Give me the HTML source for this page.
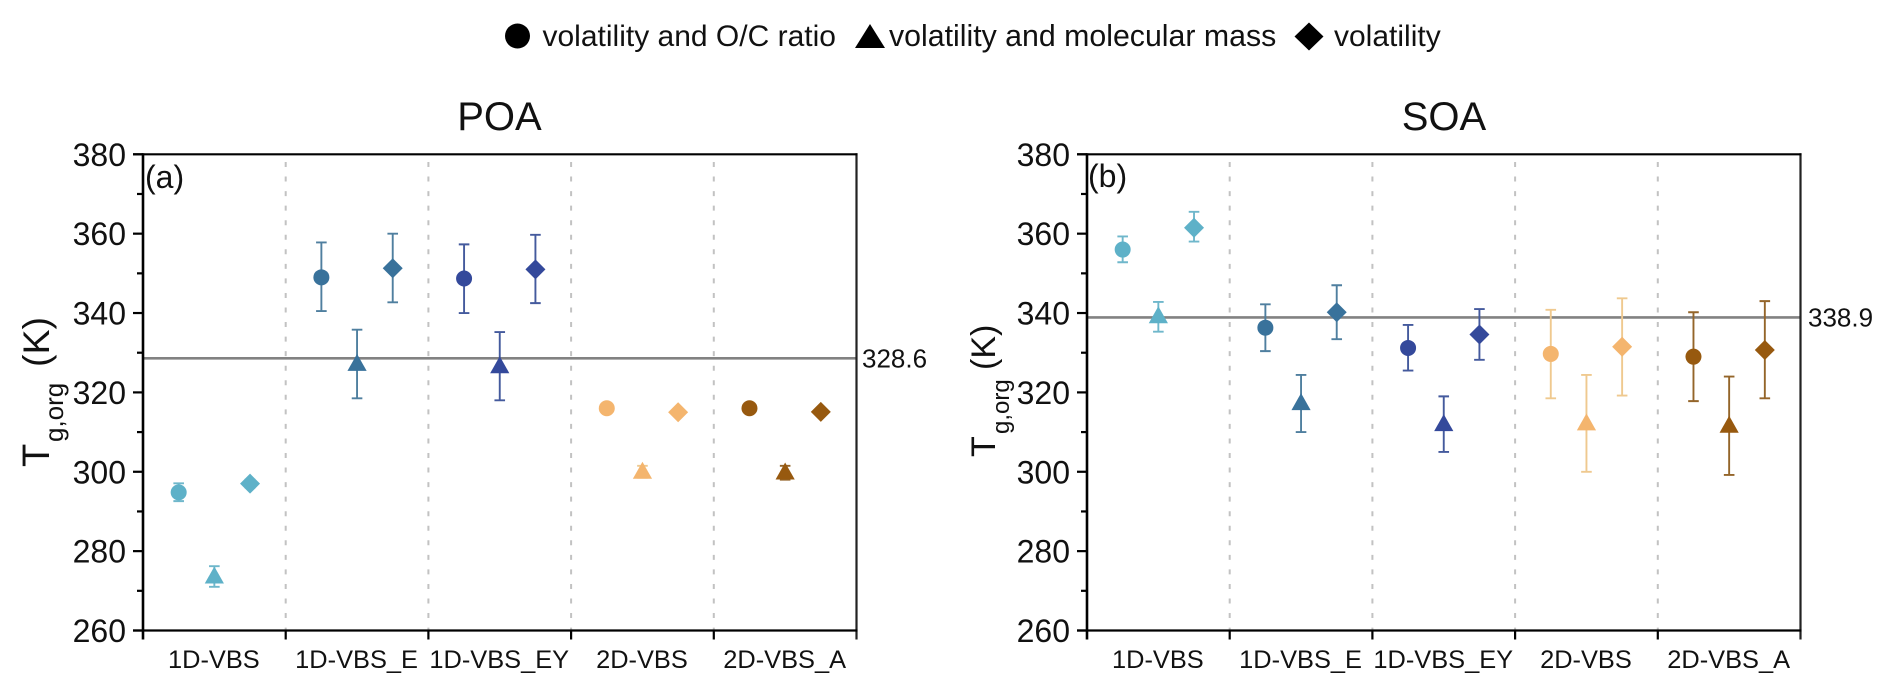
<!DOCTYPE html>
<html lang="en">
<head>
<meta charset="utf-8">
<title>Tg,org POA and SOA</title>
<style>
html,body{margin:0;padding:0;background:#fff;width:1892px;height:694px;overflow:hidden}
svg{display:block}
text{font-family:"Liberation Sans",Arial,sans-serif;fill:#111}
</style>
</head>
<body>
<svg id="chart" width="1892" height="694" viewBox="0 0 1892 694" xmlns="http://www.w3.org/2000/svg">
  <g>
    <g>
      <circle cx="517.5" cy="36" r="12.5" fill="#000"/>
      <text x="542.5" y="46" font-size="30">volatility and O/C ratio</text>
    </g>
    <g>
      <polygon points="870,24 885,48 855,48" fill="#000"/>
      <text x="889" y="46" font-size="30.3">volatility and molecular mass</text>
    </g>
    <g>
      <polygon points="1309,22.5 1323.5,36.5 1309,50.5 1294.5,36.5" fill="#000"/>
      <text x="1334" y="46" font-size="30">volatility</text>
    </g>
  </g>
  <text x="499.5" y="130" font-size="40" text-anchor="middle">POA</text>
  <text x="1444" y="130" font-size="40" text-anchor="middle">SOA</text>
  <text x="145" y="188" font-size="32">(a)</text>
  <text x="1088" y="187" font-size="32">(b)</text>
  <g transform="translate(49,467) rotate(-90)">
    <text x="0" y="0" font-size="38">T</text>
    <text x="25" y="14" font-size="26">g,org</text>
    <text x="100" y="0" font-size="37.5">(K)</text>
  </g>
  <g transform="translate(995,457) rotate(-90)">
    <text x="0" y="0" font-size="34">T</text>
    <text x="23" y="14" font-size="24">g,org</text>
    <text x="87" y="0" font-size="34">(K)</text>
  </g>
  <g id="panels"></g>
</svg>
<script>
const categories = ['1D-VBS', '1D-VBS_E', '1D-VBS_EY', '2D-VBS', '2D-VBS_A'];
const yTickLabels = [260, 280, 300, 320, 340, 360, 380];
const yMinorTicks = [270, 290, 310, 330, 350, 370];

const poaReference = 328.6;
const poaOcValue = [294.8, 349.0, 348.7, 316.0, 316.0];
const poaOcLow = [292.6, 340.5, 340.0, 315.5, 315.5];
const poaOcHigh = [297.1, 357.8, 357.3, 316.5, 316.5];
const poaMassValue = [273.6, 327.2, 326.6, 300.0, 299.8];
const poaMassLow = [271.0, 318.5, 318.0, 298.5, 298.0];
const poaMassHigh = [276.2, 335.8, 335.2, 301.5, 301.5];
const poaVolValue = [297.0, 351.3, 351.0, 315.0, 315.1];
const poaVolLow = [296.0, 342.7, 342.5, 314.5, 314.6];
const poaVolHigh = [298.0, 360.0, 359.7, 315.5, 315.6];

const soaReference = 338.9;
const soaOcValue = [356.0, 336.3, 331.2, 329.7, 329.0];
const soaOcLow = [352.8, 330.4, 325.5, 318.5, 317.8];
const soaOcHigh = [359.3, 342.2, 337.0, 340.8, 340.2];
const soaMassValue = [339.2, 317.3, 312.0, 312.2, 311.6];
const soaMassLow = [335.3, 310.0, 305.0, 300.0, 299.2];
const soaMassHigh = [342.8, 324.4, 319.0, 324.4, 324.0];
const soaVolValue = [361.5, 340.2, 334.6, 331.5, 330.7];
const soaVolLow = [358.0, 333.4, 328.2, 319.2, 318.5];
const soaVolHigh = [365.5, 347.0, 341.0, 343.7, 343.0];

const palette = ['#5eb1c8', '#39729b', '#34499b', '#f4b56e', '#97590f'];
const errorPalette = ['#6fb7cb', '#4f7f9f', '#445a9d', '#efc98f', '#94652a'];

const NS = 'http://www.w3.org/2000/svg';
const root = document.getElementById('panels');
const plotTop = 154.3, plotBottom = 630.5, catWidth = 142.7;

function make(parent, tag, props) {
  const el = document.createElementNS(NS, tag);
  for (const k in props) el.setAttribute(k, props[k]);
  parent.appendChild(el);
  return el;
}
function yScale(v) { return plotBottom - (v - 260) * (plotBottom - plotTop) / 120; }

function drawPanel(name, left, refValue, refColorLabelX, oc, mass, vol) {
  const xBand = i => left + i * catWidth;
  const xMark = (i, slot) => left + i * catWidth + catWidth * slot / 4;
  const right = xBand(categories.length);

  const panel = make(root, 'g', {});
  
  

  for (let i = 1; i < categories.length; i++) {
    const d = make(panel, 'line', {x1: xBand(i), x2: xBand(i), y1: 162, y2: plotBottom, stroke: '#c2c2c2', 'stroke-width': 2, 'stroke-dasharray': '5 9.55'});
    
    
  }

  const ref = make(panel, 'line', {x1: left, x2: right, y1: yScale(refValue), y2: yScale(refValue), stroke: '#828282', 'stroke-width': 2.6});
  
  

  const refLabel = make(panel, 'text', {x: refColorLabelX, y: yScale(refValue) + 9, 'font-size': 26});
  refLabel.textContent = refValue.toFixed(1);
  
  

  const axes = make(panel, 'g', {stroke: '#000', 'stroke-width': 2.2, fill: 'none'});
  
  
  make(axes, 'line', {x1: left, x2: left, y1: plotTop - 1, y2: 639.5, 'stroke-width': 2.6});
  make(axes, 'line', {x1: right, x2: right, y1: plotTop - 1, y2: 639.5, stroke: '#222'});
  make(axes, 'line', {x1: left - 10, x2: right + 1, y1: plotTop, y2: plotTop});
  make(axes, 'line', {x1: left - 10, x2: right + 1, y1: plotBottom, y2: plotBottom});

  yTickLabels.forEach(v => {
    const t = make(axes, 'line', {x1: left - 10, x2: left, y1: yScale(v), y2: yScale(v)});
    
    
    const lab = make(panel, 'text', {x: left - 17, y: yScale(v) + 11.5, 'font-size': 32, 'text-anchor': 'end'});
    lab.textContent = v;
    
    
  });
  yMinorTicks.forEach(v => {
    const t = make(axes, 'line', {x1: left - 6, x2: left, y1: yScale(v), y2: yScale(v)});
    
    
  });
  categories.forEach((c, i) => {
    if (i > 0) {
      const t = make(axes, 'line', {x1: xBand(i), x2: xBand(i), y1: plotBottom, y2: 639.5});
      
      
    }
    const lab = make(panel, 'text', {x: xBand(i) + catWidth / 2 - 0.5, y: 668, 'font-size': 25.4, 'text-anchor': 'middle'});
    lab.textContent = c;
    
    
  });

  const groups = [
    {shape: 'circle', slot: 1, s: oc},
    {shape: 'triangle', slot: 2, s: mass},
    {shape: 'diamond', slot: 3, s: vol}
  ];
  groups.forEach(gr => {
    gr.s.value.forEach((v, i) => {
      const x = xMark(i, gr.slot), y = yScale(v);
      const yl = yScale(gr.s.low[i]), yh = yScale(gr.s.high[i]);
      const g = make(panel, 'g', {});
      
      
      const err = make(g, 'path', {
        d: 'M' + x + ' ' + yl + 'V' + yh + 'M' + (x - 5.3) + ' ' + yl + 'H' + (x + 5.3) + 'M' + (x - 5.3) + ' ' + yh + 'H' + (x + 5.3),
        stroke: errorPalette[i], 'stroke-width': 1.9, fill: 'none'
      });
      
      
      let m;
      if (gr.shape === 'circle') {
        m = make(g, 'circle', {cx: x, cy: y, r: 8, fill: palette[i]});
      } else if (gr.shape === 'triangle') {
        m = make(g, 'polygon', {points: x + ',' + (y - 10) + ' ' + (x + 9.6) + ',' + (y + 7) + ' ' + (x - 9.6) + ',' + (y + 7), fill: palette[i]});
      } else {
        m = make(g, 'polygon', {points: x + ',' + (y - 10) + ' ' + (x + 10) + ',' + y + ' ' + x + ',' + (y + 10) + ' ' + (x - 10) + ',' + y, fill: palette[i]});
      }
      
      
    });
  });
}

drawPanel('poa', 143, poaReference, 862,
  {value: poaOcValue, low: poaOcLow, high: poaOcHigh},
  {value: poaMassValue, low: poaMassLow, high: poaMassHigh},
  {value: poaVolValue, low: poaVolLow, high: poaVolHigh});
drawPanel('soa', 1087, soaReference, 1808,
  {value: soaOcValue, low: soaOcLow, high: soaOcHigh},
  {value: soaMassValue, low: soaMassLow, high: soaMassHigh},
  {value: soaVolValue, low: soaVolLow, high: soaVolHigh});
</script>
</body>
</html>
